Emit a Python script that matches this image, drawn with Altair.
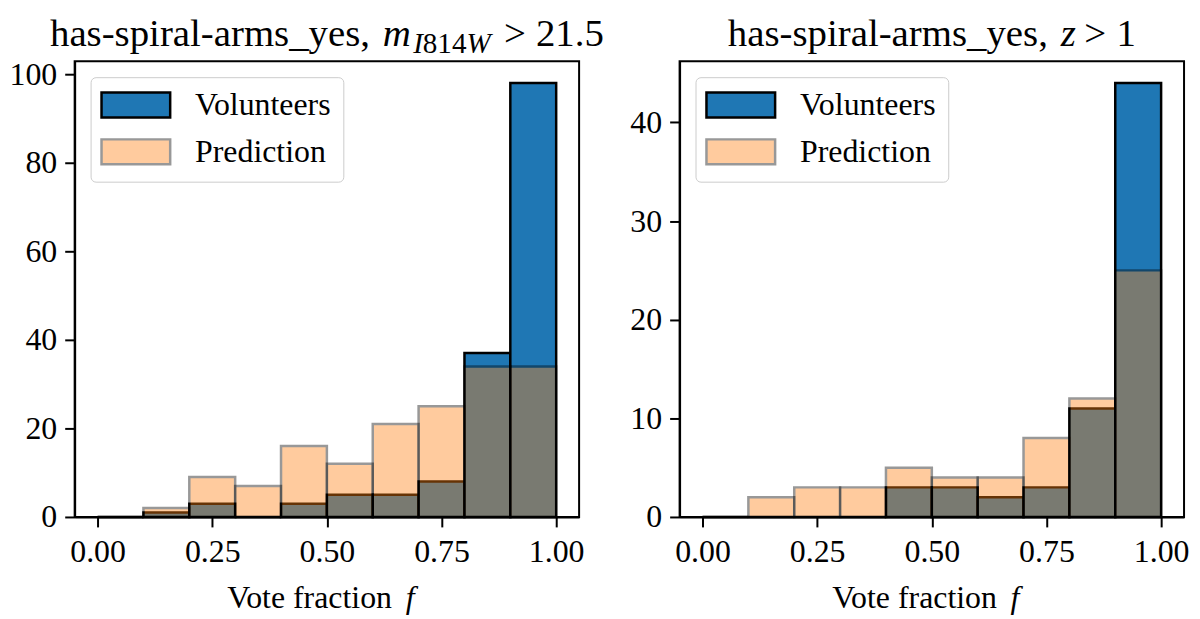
import altair as alt
import pandas as pd

# ---------------- data ----------------
bin_starts = [0.0, 0.1, 0.2, 0.3, 0.4, 0.5, 0.6, 0.7, 0.8, 0.9]
bin_width = 0.1
series_names = ["Volunteers", "Prediction"]
series_fill = ["#1f77b4", "#ff7f0e"]
series_alpha = [1.0, 0.4]

left_volunteers = [0, 1, 3, 0, 3, 5, 5, 8, 37, 98]
left_prediction = [0, 2, 9, 7, 16, 12, 21, 25, 34, 34]
right_volunteers = [0, 0, 0, 0, 3, 3, 2, 3, 11, 44]
right_prediction = [0, 2, 3, 3, 5, 4, 4, 8, 12, 25]

left_y_ticks = [0, 20, 40, 60, 80, 100]
right_y_ticks = [0, 10, 20, 30, 40]
x_ticks = [0.0, 0.25, 0.5, 0.75, 1.0]

# (text, style, size factor, baseline shift in em, gap after in em)
left_title = [("has-spiral-arms_yes,", "normal", 1.0, 0.0, 0.33),
              ("m", "italic", 1.0, 0.0, 0.06),
              ("I", "italic", 0.75, 0.18, 0.0),
              ("814", "normal", 0.75, 0.18, 0.0),
              ("W", "italic", 0.75, 0.18, 0.34),
              (">", "normal", 1.0, 0.0, 0.26),
              ("21.5", "normal", 1.0, 0.0, 0.0)]
right_title = [("has-spiral-arms_yes,", "normal", 1.0, 0.0, 0.33),
               ("z", "italic", 1.0, 0.0, 0.22),
               (">", "normal", 1.0, 0.0, 0.26),
               ("1", "normal", 1.0, 0.0, 0.0)]
x_label = [("Vote fraction", "normal", 1.0, 0.0, 0.30),
           ("f", "italic", 1.0, 0.0, 0.0)]

# ---------------- layout constants ----------------
FONT = "Liberation Serif"
W, H = 507, 458
BASE = 32
TITLE = 39

# approximate Times metrics (per 1000 em) to place mixed-style text pieces
NORMAL_W = {" ": 250, "-": 333, ",": 250, ".": 250, "_": 500, ">": 564,
            "a": 444, "c": 444, "e": 444, "h": 500, "i": 278, "l": 278,
            "m": 778, "n": 500, "o": 500, "p": 500, "r": 333, "s": 389,
            "t": 278, "y": 500, "f": 333, "V": 722, "I": 333, "W": 944}
ITALIC_W = {"m": 722, "z": 389, "I": 333, "W": 833, "f": 278}


def text_width(s, style, size):
    table = ITALIC_W if style == "italic" else NORMAL_W
    return sum(table.get(ch, 500) for ch in s) / 1000.0 * size


def rich_text(segments, size, center_x, baseline_y):
    total = sum(text_width(t, st, size * sc) + gap * size
                for t, st, sc, _, gap in segments)
    x = center_x - total / 2.0
    layers = []
    for t, st, sc, dy, gap in segments:
        fs = size * sc
        layers.append(
            alt.Chart(pd.DataFrame({"label": [t]}))
            .mark_text(align="left", baseline="alphabetic", font=FONT,
                       fontSize=fs, fontStyle=st, color="black")
            .encode(text="label:N", x=alt.value(round(x, 1)),
                    y=alt.value(round(baseline_y + dy * size, 1)))
        )
        x += text_width(t, st, fs) + gap * size
    return layers


def panel(vol, pred, y_ticks, title_segments):
    rows = []
    for name, vals in zip(series_names, (vol, pred)):
        for b, v in zip(bin_starts, vals):
            rows.append({"series": name, "start": b,
                         "end": round(b + bin_width, 2), "count": v})
    df = pd.DataFrame(rows)
    ymax = max(vol + pred) * 1.05

    leg = alt.Legend(
        title=None, orient="top-left", offset=16, padding=12,
        strokeColor="#cccccc", fillColor="white", cornerRadius=5,
        labelFont=FONT, labelFontSize=BASE, labelColor="black",
        labelLimit=400, labelOffset=61, rowPadding=11,
        symbolType="M-1.36,-1L4.16,-1L4.16,1L-1.36,1Z",
        symbolSize=625, symbolStrokeWidth=2.5,
    )
    bars = alt.Chart(df).mark_bar(strokeWidth=2.5).encode(
        x=alt.X("start:Q",
                scale=alt.Scale(domain=[-0.05, 1.05], nice=False, zero=False),
                axis=alt.Axis(values=x_ticks, format=".2f", title=None,
                              labelPadding=10)),
        x2="end:Q",
        y=alt.Y("count:Q", stack=None,
                scale=alt.Scale(domain=[0, ymax], nice=False),
                axis=alt.Axis(values=y_ticks, title=None, labelPadding=8)),
        y2=alt.datum(0),
        fill=alt.Fill("series:N", scale=alt.Scale(domain=series_names, range=series_fill), legend=leg),
        stroke=alt.Stroke("series:N", scale=alt.Scale(domain=series_names, range=["#000000", "#000000"]), legend=leg),
        opacity=alt.Opacity("series:N", scale=alt.Scale(domain=series_names, range=series_alpha), legend=leg),
    )
    layers = [bars]
    layers += rich_text(title_segments, TITLE, W / 2.0, -15)
    layers += rich_text(x_label, BASE, W / 2.0 - 6, H + 91)
    return alt.layer(*layers).properties(width=W, height=H)


left = panel(left_volunteers, left_prediction, left_y_ticks, left_title)
right = panel(right_volunteers, right_prediction, right_y_ticks, right_title)

chart = (
    alt.hconcat(left, right, spacing=101, bounds="flush")
    .resolve_scale(fill="independent", stroke="independent", opacity="independent",
                   x="independent", y="independent")
    .resolve_legend(fill="independent", stroke="independent", opacity="independent")
    .properties(padding={"left": 0, "top": 5, "right": 2, "bottom": 0})
    .configure_view(stroke="black", strokeWidth=2)
    .configure_axis(domainColor="black", domainWidth=2, tickColor="black",
                    tickWidth=2, tickSize=10, labelFont=FONT,
                    labelFontSize=BASE, labelColor="black", grid=False)
)

chart.save("out.html", embed_options={"renderer": "svg", "actions": False})
